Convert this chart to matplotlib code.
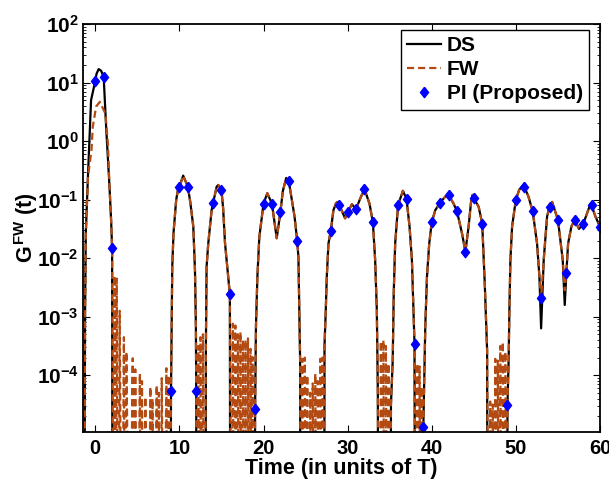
import matplotlib
matplotlib.use("Agg")
import matplotlib.pyplot as plt
import numpy as np

plt.rcParams['font.family'] = ['Liberation Sans', 'DejaVu Sans']
plt.rcParams['font.weight'] = 'bold'
plt.rcParams['mathtext.fontset'] = 'custom'
plt.rcParams['mathtext.rm'] = 'Liberation Sans:bold'
plt.rcParams['mathtext.it'] = 'Liberation Sans:bold'
plt.rcParams['mathtext.bf'] = 'Liberation Sans:bold'

# values are log10 of G^FW(t); -9 means "zero" (below the axis)
ds_t = [-1.3, -1.22, -1.13, -0.86, -0.5, 0.0, 0.15, 0.4, 0.7, 1.0, 1.29, 1.69, 1.88, 2.0, 2.05,
        8.95, 9.0, 9.15, 9.3, 9.62, 9.82, 10.0, 10.45, 11.0, 11.3, 11.65, 11.85, 11.96, 12.0, 12.03,
        13.1, 13.15, 13.23, 13.43, 13.83, 14.0, 14.43, 14.62, 15.0, 15.2, 15.42, 15.81, 16.0, 16.05,
        18.95, 19.0, 19.1, 19.27, 19.5, 20.0, 20.45, 21.0, 21.57, 22.0, 22.3, 22.7, 23.0, 23.69,
        24.0, 24.15, 24.35, 24.4,
        27.2, 27.25, 27.4, 27.52, 27.72, 28.0, 28.31, 28.63, 28.79, 29.0, 29.7, 30.0, 30.5, 31.0,
        31.5, 32.0, 32.6, 33.0, 33.27, 33.47, 33.59, 33.65,
        35.1, 35.15, 35.36, 35.48, 35.65, 36.0, 36.57, 37.0, 37.36, 37.64, 37.95, 38.03,
        38.98, 39.0, 39.23, 39.43, 39.7, 40.0, 40.42, 41.0, 41.6, 42.0, 42.6, 43.0, 43.6, 44.0,
        44.38, 44.67, 44.85, 45.0, 45.57, 46.0, 46.3, 46.58, 46.65,
        48.97, 49.0, 49.14, 49.23, 49.35, 49.55, 50.0, 50.4, 50.93, 51.0, 51.5, 52.0, 52.52, 52.8,
        53.0, 53.31, 53.71, 54.0, 54.31, 55.0, 55.57, 55.81, 56.0, 56.21, 56.6, 57.0, 57.5, 58.0,
        58.87, 59.0, 59.46, 60.0, 60.2]
ds_v = [-9, -3.0, -1.58, -0.55, 0.70, 1.03, 1.15, 1.23, 1.2, 1.09, 0.24, -0.78, -1.35, -1.83, -9,
        -9, -4.27, -2.15, -1.57, -1.0, -0.84, -0.78, -0.59, -0.78, -1.05, -1.46, -2.2, -3.17, -4.27, -9,
        -9, -3.5, -2.15, -1.75, -1.18, -1.06, -0.78, -0.75, -0.84, -1.15, -1.74, -2.32, -2.62, -9,
        -9, -4.57, -3.17, -2.32, -1.64, -1.07, -0.89, -1.07, -1.66, -1.22, -0.85, -0.63, -0.68, -1.29,
        -1.70, -1.98, -3.74, -9,
        -9, -3.5, -2.89, -2.32, -1.75, -1.53, -1.18, -1.06, -1.04, -1.09, -1.32, -1.22, -1.08, -1.16,
        -0.98, -0.82, -1.07, -1.385, -2.03, -2.89, -4.3, -9,
        -9, -4.5, -3.74, -2.6, -1.75, -1.09, -0.85, -0.99, -1.46, -2.03, -3.47, -9,
        -9, -4.88, -3.17, -2.32, -1.75, -1.385, -1.18, -1.05, -0.95, -0.92, -1.07, -1.20, -1.58, -1.89,
        -1.46, -1.04, -0.92, -0.98, -1.12, -1.41, -2.43, -3.57, -9,
        -9, -4.51, -3.74, -2.89, -2.03, -1.46, -1.0, -0.83, -0.75, -0.78, -0.95, -1.20, -1.75, -2.32,
        -3.2, -2.03, -1.29, -1.12, -1.04, -1.345, -2.03, -2.8, -2.26, -1.75, -1.46, -1.345, -1.5, -1.42,
        -1.07, -1.10, -1.29, -1.46, -1.55]

# FW: lower main peak, shallower dips, noisy floor between lobes
fw_head_t = [-1.3, -1.22, -1.13, -0.86, -0.45, -0.3, 0.1, 0.55, 1.2, 1.5, 1.69, 1.88, 2.0]
fw_head_v = [-9, -3.0, -1.6, -0.6, -0.15, 0.24, 0.59, 0.67, 0.47, -0.04, -0.78, -1.35, -1.83]
fw_dip_t = [53.0, 55.81]
fw_dip_v = [-2.68, -2.55]
fw_noise_t = [
    [2.3, 2.55, 2.9, 3.4, 3.7, 4.45, 4.75, 5.3, 5.55, 5.95, 6.55, 6.8, 7.3, 7.55, 7.9, 8.45, 8.7],
    [12.25, 12.5, 12.8],
    [16.35, 16.65, 16.95, 17.25, 17.55, 17.85, 18.15, 18.45, 18.7],
    [24.6, 24.9, 25.2, 25.55, 25.85, 26.15, 26.45, 26.75, 27.0],
    [33.95, 34.25, 34.55, 34.85],
    [38.3, 38.55, 38.8],
    [46.95, 47.25, 47.55, 47.85, 48.15, 48.45, 48.75],
]
fw_noise_v = [
    [-2.3, -2.35, -2.9, -3.35, -3.6, -3.71, -3.9, -3.97, -4.1, -4.37, -4.2, -4.4, -4.17, -4.3,
     -4.05, -3.88, -4.0],
    [-3.5, -3.35, -3.3],
    [-3.12, -3.15, -3.3, -3.26, -3.4, -3.4, -3.37, -3.55, -3.69],
    [-3.72, -3.7, -4.0, -4.3, -4.14, -3.97, -4.1, -3.72, -3.7],
    [-3.42, -3.4, -3.5, -3.8],
    [-3.8, -3.85, -4.2],
    [-4.45, -4.5, -3.72, -3.75, -3.5, -3.43, -3.6],
]

# PI (Proposed) samples at integer times
pi_t = [0, 1, 2, 9, 10, 11, 12, 14, 15, 16, 19, 20, 21, 22, 23, 24, 28, 29, 30, 31, 32, 33,
        36, 37, 38, 39, 40, 41, 42, 43, 44, 45, 46, 49, 50, 51, 52, 53, 54, 55, 56, 57, 58, 59, 60]
pi_v = [1.03, 1.09, -1.83, -4.27, -0.78, -0.78, -4.27, -1.06, -0.843, -2.62, -4.57, -1.07, -1.07,
        -1.22, -0.68, -1.70, -1.53, -1.09, -1.22, -1.16, -0.82, -1.385, -1.09, -0.99, -3.47, -4.88,
        -1.385, -1.05, -0.92, -1.20, -1.89, -0.98, -1.41, -4.51, -1.0, -0.78, -1.20, -2.68, -1.12,
        -1.345, -2.26, -1.35, -1.42, -1.10, -1.46]

# build FW series
fw = [(t, v) for t, v in zip(ds_t, ds_v) if t > 2.0 and v > -8 and t not in fw_dip_t]
fw += list(zip(fw_head_t, fw_head_v)) + list(zip(fw_dip_t, fw_dip_v))
for pk_t, pk_v in zip(fw_noise_t, fw_noise_v):
    fw.append((pk_t[0] - 0.15, -9))
    for i in range(len(pk_t)):
        fw.append((pk_t[i], pk_v[i]))
        if i < len(pk_t) - 1:
            fw.append(((pk_t[i] + pk_t[i + 1]) / 2, -9))
    fw.append((pk_t[-1] + 0.15, -9))
fw.sort()
fw_t = [p[0] for p in fw]
fw_v = [p[1] for p in fw]

# matlab style diamond, a bit narrower than tall
diamond = [(0, 1), (0.78, 0), (0, -1), (-0.78, 0), (0, 1)]

fig = plt.figure(figsize=(6.09, 4.83), dpi=100)
ax = fig.add_axes([0.1363, 0.1056, 0.8489, 0.8447])

ax.semilogy(ds_t, 10.0 ** np.array(ds_v), color='black', lw=1.6, label='DS')
ax.semilogy(fw_t, 10.0 ** np.array(fw_v), color='#b34a12', lw=1.6, ls=(0, (3.2, 1.8)), label='FW')
ax.semilogy(pi_t, 10.0 ** np.array(pi_v), ls='none', marker=diamond, color='blue', ms=7.5,
            mec='blue', label='PI (Proposed)')

ax.set_xlim(-1.46, 60)
ax.set_ylim(10 ** -4.97, 100)
ax.set_xticks([0, 10, 20, 30, 40, 50, 60])
ax.set_yticks([1e-4, 1e-3, 1e-2, 1e-1, 1, 10, 100])
ax.tick_params(which='both', direction='in', top=True, right=True)
ax.tick_params(axis='x', labelsize=14.5, pad=5)
ax.tick_params(axis='y', labelsize=15, pad=3)
ax.tick_params(which='major', length=5)
ax.tick_params(which='minor', length=2.5)
for s in ax.spines.values():
    s.set_linewidth(1.3)

ax.set_xlabel('Time (in units of T)', fontsize=15.5, fontweight='bold', labelpad=0)
ax.set_ylabel(r'$G^{FW}$ (t)', fontsize=15.5, fontweight='bold', labelpad=-2)

leg = ax.legend(loc='upper right', bbox_to_anchor=(0.979, 0.986), borderaxespad=0,
                fancybox=False, edgecolor='black', framealpha=1, fontsize=15,
                handlelength=1.6, labelspacing=0.25, borderpad=0.3, handletextpad=0.3)
leg.get_frame().set_linewidth(1.0)

fig.savefig('out.png', dpi=100)
